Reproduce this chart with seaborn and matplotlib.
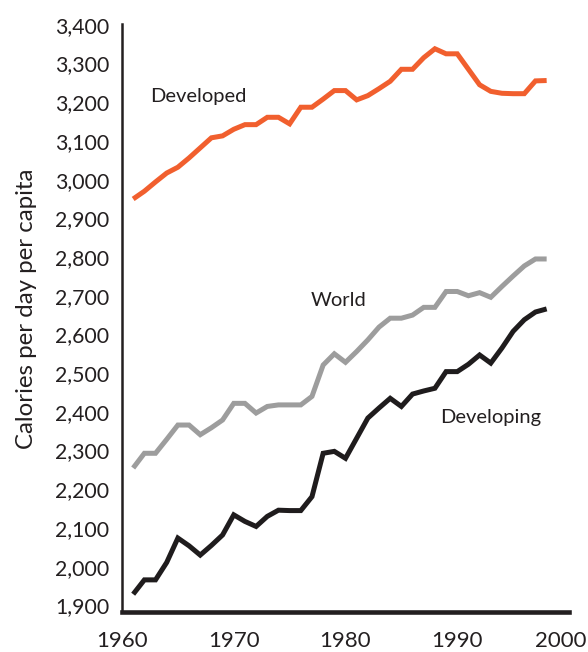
import matplotlib
matplotlib.use("Agg")
import matplotlib.pyplot as plt
import matplotlib.transforms as mtransforms
from matplotlib.ticker import FuncFormatter
import numpy as np
import pandas as pd
import seaborn as sns

# ---- data ----
years = list(range(1961, 1999))
developed = [2950, 2970, 2994, 3017, 3032, 3056, 3082, 3108, 3113, 3130,
             3142, 3142, 3161, 3161, 3144, 3187, 3187, 3208, 3230, 3230,
             3206, 3217, 3235, 3254, 3285, 3285, 3315, 3338, 3325, 3325,
             3285, 3245, 3228, 3223, 3222, 3222, 3255, 3256]
world = [2255, 2293, 2293, 2329, 2366, 2366, 2341, 2359, 2379, 2422,
         2422, 2397, 2414, 2418, 2418, 2418, 2440, 2521, 2550, 2528,
         2556, 2586, 2619, 2642, 2642, 2650, 2670, 2670, 2711, 2711,
         2700, 2708, 2696, 2724, 2751, 2777, 2795, 2795]
developing = [1929, 1966, 1966, 2011, 2074, 2054, 2030, 2055, 2082, 2134,
              2117, 2104, 2130, 2146, 2145, 2145, 2181, 2293, 2298, 2280,
              2332, 2384, 2410, 2435, 2414, 2446, 2454, 2461, 2504, 2504,
              2523, 2547, 2526, 2565, 2608, 2638, 2658, 2666]
series_names = ["Developed", "World", "Developing"]
series_colors = ["#f15f2e", "#9d9d9d", "#1f1c1d"]
x_ticks = [1960, 1970, 1980, 1990, 2000]
y_ticks = list(range(1900, 3401, 100))
y_label = "Calories per day per capita"

df = pd.DataFrame({
    "year": years * 3,
    "calories": developed + world + developing,
    "series": [series_names[0]] * len(years) + [series_names[1]] * len(years)
              + [series_names[2]] * len(years),
})

sns.set_theme(style="white")
plt.rcParams["font.family"] = ["Lato", "DejaVu Sans"]
text_color = "#231f20"

fig = plt.figure(figsize=(5.88, 6.52), dpi=100)
ax = fig.add_axes([122 / 588, 40 / 652, 447 / 588, 588 / 652])

sns.lineplot(data=df, x="year", y="calories", hue="series",
             hue_order=series_names, palette=series_colors,
             linewidth=3.6, legend=False, ax=ax)
for ln in ax.get_lines():
    ln.set_solid_joinstyle("miter")
    ln.set_solid_capstyle("butt")

ax.set_xlim(1960, 2000)
ax.set_ylim(1883, 3402)
ax.set_xticks(x_ticks)
ax.set_yticks(y_ticks)
ax.yaxis.set_major_formatter(FuncFormatter(lambda v, p: f"{int(v):,}"))
ax.tick_params(axis="both", length=0, colors=text_color)
ax.tick_params(axis="x", pad=14, labelsize=16)
ax.tick_params(axis="y", pad=9, labelsize=15.3)

ax.set_xlabel("")
ax.set_ylabel(y_label, fontsize=17.3, color=text_color)
ax.yaxis.set_label_coords(-0.19, 0.515)

for s in ["top", "right"]:
    ax.spines[s].set_visible(False)
ax.spines["left"].set_color(text_color)
ax.spines["left"].set_linewidth(1.8)
ax.spines["bottom"].set_color(text_color)
ax.spines["bottom"].set_linewidth(3.3)

# shift last x label left so it stays within the figure (as in the reference)
lbls = ax.get_xticklabels()
off = mtransforms.ScaledTranslation(-8 / 100, 0, fig.dpi_scale_trans)
lbls[-1].set_transform(lbls[-1].get_transform() + off)

ax.text(1962.5, 3214, "Developed", fontsize=14.5, color=text_color,
        ha="left", va="center")
ax.text(1976.9, 2689, "World", fontsize=14.5, color=text_color,
        ha="left", va="center")
ax.text(1988.5, 2385, "Developing", fontsize=14.5, color=text_color,
        ha="left", va="center")

fig.savefig("out.png", dpi=100)
